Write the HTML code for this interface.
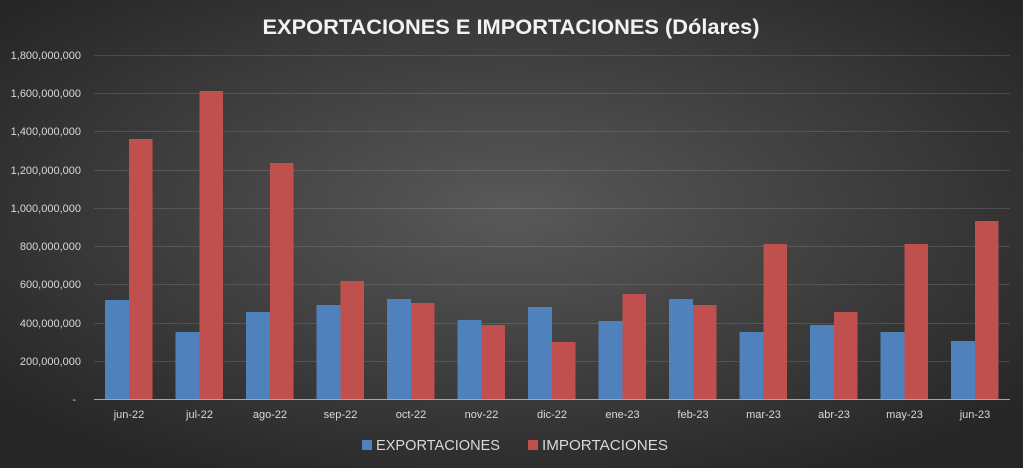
<!DOCTYPE html>
<html><head><meta charset="utf-8"><style>
html,body{margin:0;padding:0;width:1023px;height:468px;overflow:hidden;background:#333}
</style></head><body>
<svg width="1023" height="468" xmlns="http://www.w3.org/2000/svg" font-family="'Liberation Sans', sans-serif">
<defs>
<radialGradient id="bg" cx="50%" cy="45%" r="65%">
<stop offset="0" stop-color="#595959"/>
<stop offset="1" stop-color="#262626"/>
</radialGradient>
</defs>
<rect width="1023" height="468" fill="url(#bg)"/>
<text x="511" y="34" text-anchor="middle" font-size="21" font-weight="bold" fill="#f2f2f2" textLength="497" lengthAdjust="spacingAndGlyphs">EXPORTACIONES E IMPORTACIONES (Dólares)</text>
<g stroke="#ffffff" stroke-opacity="0.13" stroke-width="1">
<line x1="94" x2="1010" y1="55.5" y2="55.5"/>
<line x1="94" x2="1010" y1="93.5" y2="93.5"/>
<line x1="94" x2="1010" y1="131.5" y2="131.5"/>
<line x1="94" x2="1010" y1="170.5" y2="170.5"/>
<line x1="94" x2="1010" y1="208.5" y2="208.5"/>
<line x1="94" x2="1010" y1="246.5" y2="246.5"/>
<line x1="94" x2="1010" y1="284.5" y2="284.5"/>
<line x1="94" x2="1010" y1="323.5" y2="323.5"/>
<line x1="94" x2="1010" y1="361.5" y2="361.5"/>
</g>
<g font-size="11" fill="#d9d9d9" text-anchor="end">
<text x="81" y="59">1,800,000,000</text>
<text x="81" y="97">1,600,000,000</text>
<text x="81" y="135">1,400,000,000</text>
<text x="81" y="174">1,200,000,000</text>
<text x="81" y="212">1,000,000,000</text>
<text x="81" y="250">800,000,000</text>
<text x="81" y="288">600,000,000</text>
<text x="81" y="327">400,000,000</text>
<text x="81" y="365">200,000,000</text>
<text x="76" y="403">-</text>
</g>
<g fill="#4f81bd">
<rect x="105" y="300" width="24" height="99"/>
<rect x="175.5" y="332" width="24" height="67"/>
<rect x="246" y="312" width="24" height="87"/>
<rect x="316.5" y="305" width="24" height="94"/>
<rect x="387" y="299" width="24" height="100"/>
<rect x="457.5" y="320" width="24" height="79"/>
<rect x="528" y="307" width="24" height="92"/>
<rect x="598.5" y="321" width="24" height="78"/>
<rect x="669" y="299" width="24" height="100"/>
<rect x="739.5" y="332" width="24" height="67"/>
<rect x="810" y="325" width="24" height="74"/>
<rect x="880.5" y="332" width="24" height="67"/>
<rect x="951" y="341" width="24" height="58"/>
</g>
<g fill="#c0504d">
<rect x="129" y="139" width="23.5" height="260"/>
<rect x="199.5" y="91" width="23.5" height="308"/>
<rect x="270" y="163" width="23.5" height="236"/>
<rect x="340.5" y="281" width="23.5" height="118"/>
<rect x="411" y="303" width="23.5" height="96"/>
<rect x="481.5" y="325" width="23.5" height="74"/>
<rect x="552" y="342" width="23.5" height="57"/>
<rect x="622.5" y="294" width="23.5" height="105"/>
<rect x="693" y="305" width="23.5" height="94"/>
<rect x="763.5" y="244" width="23.5" height="155"/>
<rect x="834" y="312" width="23.5" height="87"/>
<rect x="904.5" y="244" width="23.5" height="155"/>
<rect x="975" y="221" width="23.5" height="178"/>
</g>
<line x1="94" x2="1010" y1="399.5" y2="399.5" stroke="#a6a6a6" stroke-width="1"/>
<g font-size="11" fill="#d9d9d9" text-anchor="middle">
<text x="129" y="418">jun-22</text>
<text x="199.5" y="418">jul-22</text>
<text x="270" y="418">ago-22</text>
<text x="340.5" y="418">sep-22</text>
<text x="411" y="418">oct-22</text>
<text x="481.5" y="418">nov-22</text>
<text x="552" y="418">dic-22</text>
<text x="622.5" y="418">ene-23</text>
<text x="693" y="418">feb-23</text>
<text x="763.5" y="418">mar-23</text>
<text x="834" y="418">abr-23</text>
<text x="904.5" y="418">may-23</text>
<text x="975" y="418">jun-23</text>
</g>
<rect x="362" y="440" width="10" height="10" fill="#4f81bd"/>
<text x="376" y="450" font-size="15" fill="#d9d9d9" textLength="124" lengthAdjust="spacingAndGlyphs">EXPORTACIONES</text>
<rect x="528" y="440" width="10" height="10" fill="#c0504d"/>
<text x="542" y="450" font-size="15" fill="#d9d9d9" textLength="126" lengthAdjust="spacingAndGlyphs">IMPORTACIONES</text>
</svg>
</body></html>
